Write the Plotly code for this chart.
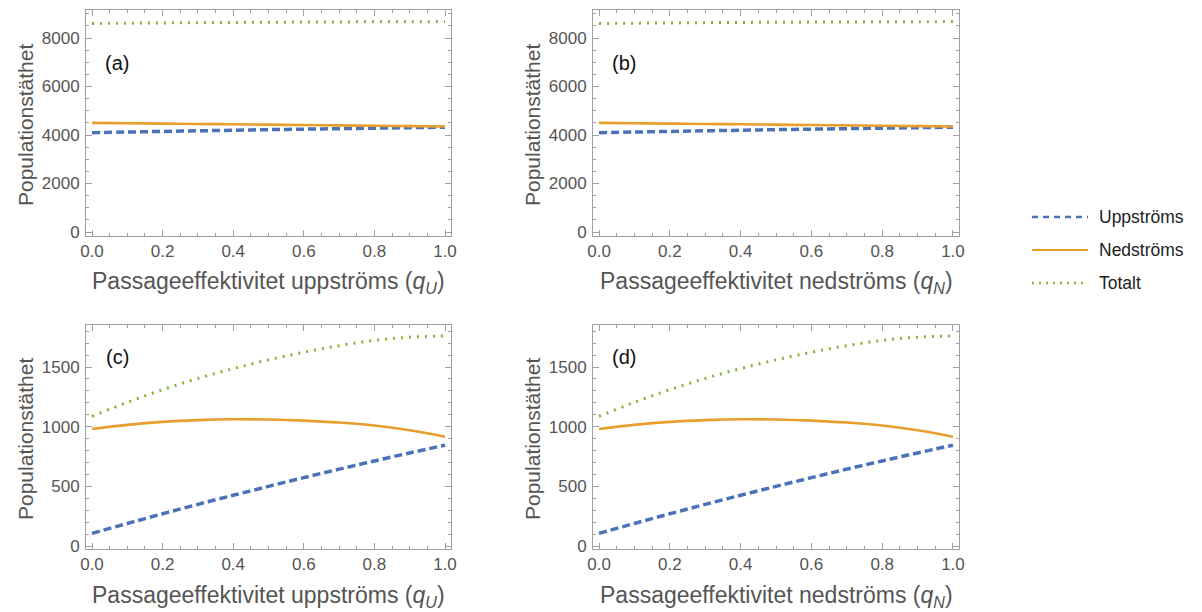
import plotly.graph_objects as go

q = [0.0, 0.1, 0.2, 0.3, 0.4, 0.5, 0.6, 0.7, 0.8, 0.9, 1.0]

# Panels (a) and (b)
upp_top = [4095, 4122, 4148, 4173, 4197, 4220, 4242, 4263, 4283, 4303, 4322]
ned_top = [4500, 4486, 4471, 4456, 4441, 4426, 4411, 4396, 4381, 4366, 4350]
tot_top = [8600, 8612, 8623, 8633, 8642, 8650, 8657, 8663, 8668, 8673, 8677]

# Panels (c) and (d)
upp_bot = [106, 189, 270, 349, 425, 500, 573, 644, 713, 780, 845]
ned_bot = [981, 1015, 1040, 1055, 1062, 1060, 1051, 1035, 1010, 970, 916]
tot_bot = [1087, 1204, 1310, 1404, 1487, 1560, 1624, 1679, 1723, 1750, 1761]

series_names = ["Uppströms", "Nedströms", "Totalt"]
panel_labels = ["(a)", "(b)", "(c)", "(d)"]
x_titles = ["Passageeffektivitet uppströms (<i>q</i><sub><i>U</i></sub>)",
            "Passageeffektivitet nedströms (<i>q</i><sub><i>N</i></sub>)"]
y_title = "Populationstäthet"

BLUE = "#4A72B9"
ORANGE = "#E89E2C"
GREEN = "#86B23A"
FRAME = "#a0a0a0"
TXT = "#555555"
FONT = "Liberation Sans, Arial, sans-serif"

OFF = 8  # page body margin
W, H = 1202 - OFF, 612 - OFF


def px(v):
    return v - OFF


# pixel frames in window coords: (left, right, top, bottom)
frames = [(86, 451, 10, 236), (593, 959, 10, 236),
          (86, 451, 325, 549), (593, 959, 325, 549)]

fig = go.Figure()

styles = [dict(color=BLUE, width=3.5, dash="8px,4px"),
          dict(color=ORANGE, width=2.6),
          dict(color=GREEN, width=3, dash="2px,6px")]

for i in range(4):
    ax = "" if i == 0 else str(i + 1)
    if i < 2:
        data = [upp_top, ned_top, tot_top]
    else:
        data = [upp_bot, ned_bot, tot_bot]
    for name, ys, st in zip(series_names, data, styles):
        fig.add_trace(go.Scatter(x=q, y=ys, mode="lines", name=name,
                                 line=dict(shape="spline", **st),
                                 xaxis="x" + ax, yaxis="y" + ax,
                                 showlegend=False, hoverinfo="skip"))

layout = dict(width=W, height=H, margin=dict(l=0, r=0, t=0, b=0, autoexpand=False),
              paper_bgcolor="white", plot_bgcolor="white",
              font=dict(family=FONT, color=TXT), showlegend=False)

for i, (l, r, t, b) in enumerate(frames):
    ax = "" if i == 0 else str(i + 1)
    top = i < 2
    layout["xaxis" + ax] = dict(
        domain=[px(l) / W, px(r) / W], anchor="y" + ax,
        range=[-0.017, 1.017], tickmode="array",
        tickvals=[0, 0.2, 0.4, 0.6, 0.8, 1.0],
        ticktext=["0.0", "0.2", "0.4", "0.6", "0.8", "1.0"],
        ticks="inside", ticklen=6, tickcolor=FRAME, tickwidth=1,
        minor=dict(tickmode="array",
                   tickvals=[0.05, 0.1, 0.15, 0.25, 0.3, 0.35, 0.45, 0.5, 0.55,
                             0.65, 0.7, 0.75, 0.85, 0.9, 0.95],
                   ticks="inside", ticklen=3, tickcolor=FRAME),
        showline=True, linecolor=FRAME, linewidth=1, mirror="allticks",
        showgrid=False, zeroline=False,
        tickfont=dict(size=17, color=TXT, family=FONT))
    if top:
        yr = [-165, 9155]
        tv = [0, 2000, 4000, 6000, 8000]
        mv = [500, 1000, 1500, 2500, 3000, 3500, 4500, 5000, 5500,
              6500, 7000, 7500, 8500, 9000]
    else:
        yr = [-25, 1852]
        tv = [0, 500, 1000, 1500]
        mv = [100, 200, 300, 400, 600, 700, 800, 900, 1100, 1200, 1300,
              1400, 1600, 1700, 1800]
    layout["yaxis" + ax] = dict(
        domain=[1 - px(b) / H, 1 - px(t) / H], anchor="x" + ax,
        range=yr, tickmode="array", tickvals=tv,
        ticks="inside", ticklen=6, tickcolor=FRAME, tickwidth=1,
        minor=dict(tickmode="array", tickvals=mv, ticks="inside",
                   ticklen=3, tickcolor=FRAME),
        showline=True, linecolor=FRAME, linewidth=1, mirror="allticks",
        showgrid=False, zeroline=False, ticklabelstandoff=2,
        tickfont=dict(size=17, color=TXT, family=FONT))

annotations = []
for i, (l, r, t, b) in enumerate(frames):
    ax = "" if i == 0 else str(i + 1)
    ly = 0.765 if i < 2 else 0.857
    annotations.append(dict(text=panel_labels[i], x=0.085, y=ly,
                            xref="x" + ax + " domain", yref="y" + ax + " domain",
                            showarrow=False, xanchor="center", yanchor="middle",
                            font=dict(size=20, color="#111111", family=FONT)))
    # x title
    annotations.append(dict(text=x_titles[i % 2], x=px((l + r) / 2) / W,
                            y=1 - px(b + 47) / H, xref="paper", yref="paper",
                            showarrow=False, xanchor="center", yanchor="middle",
                            font=dict(size=23, color=TXT, family=FONT)))
    # y title
    annotations.append(dict(text=y_title, x=px(l - 61) / W,
                            y=1 - px((t + b) / 2 + 2) / H, xref="paper", yref="paper",
                            showarrow=False, textangle=-90,
                            xanchor="center", yanchor="middle",
                            font=dict(size=21, color=TXT, family=FONT)))

# legend (manual)
leg_y = [217, 250, 283]
leg_styles = [dict(color=BLUE, width=2.5, dash="6px,5px"),
              dict(color=ORANGE, width=2.2),
              dict(color=GREEN, width=2.5, dash="2px,5px")]
shapes = []
for name, yy, st in zip(series_names, leg_y, leg_styles):
    shapes.append(dict(type="line", xref="paper", yref="paper",
                       x0=px(1032) / W, x1=px(1088) / W,
                       y0=1 - px(yy) / H, y1=1 - px(yy) / H, line=st))
    annotations.append(dict(text=name, x=px(1097) / W, y=1 - px(yy) / H,
                            xref="paper", yref="paper", showarrow=False,
                            xanchor="left", yanchor="middle",
                            font=dict(size=17.5, color="#222222", family=FONT)))

layout["annotations"] = annotations
layout["shapes"] = shapes
fig.update_layout(**layout)
fig.write_html("out.html")
